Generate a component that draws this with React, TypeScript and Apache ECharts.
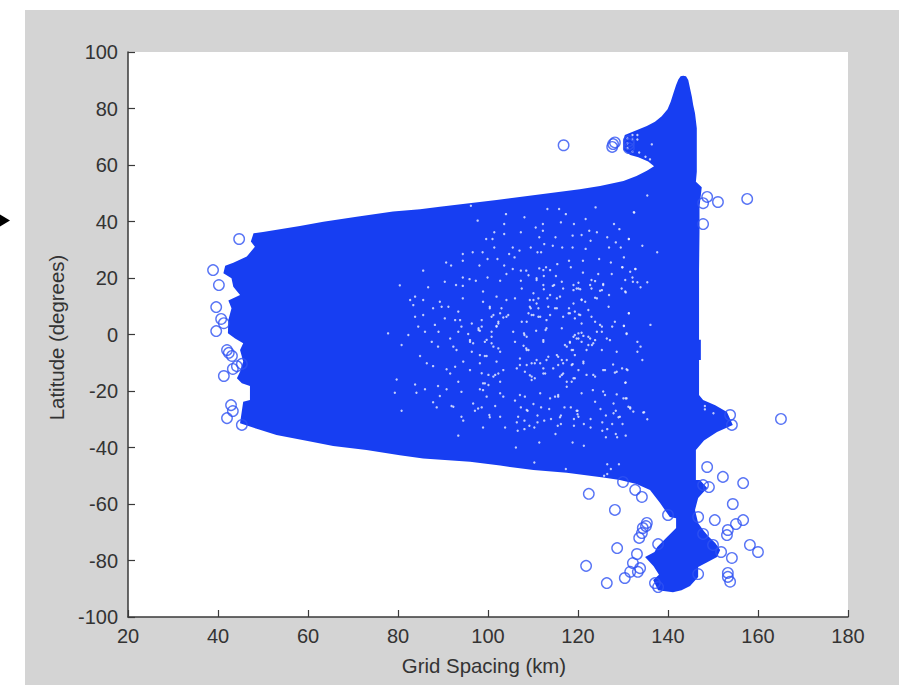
import React, { useEffect, useRef } from "react";
import * as echarts from "echarts";

const xTicksMin = 20;
const xTicksMax = 180;
const yTicksMin = -100;
const yTicksMax = 100;
const xName = "Grid Spacing (km)";
const yName = "Latitude (degrees)";

// Outer envelope of the solid point cloud, [grid spacing, latitude]
const envelope: number[][] = [
  [142.8,91.4],[143.4,91.6],[144,91.4],[144.5,90.1],[145.3,84.2],[145.6,81.2],[146,78.3],[146.4,73],[146.4,57.6],[146.2,54.1],[147.5,52.1],
  [147,45.2],[147,36.4],[146.9,22.8],[146.9,-1.9],[147.3,-1.9],[147.3,-9],[146.9,-9],[146.9,-21.4],[147.8,-23.2],
  [150.5,-25],[153.1,-27.4],[154.4,-32],[150.9,-34.5],[148,-37.5],[146.2,-40.9],
  [146.2,-51.5],[147.1,-51.5],[148.7,-54.3],[146.7,-57.9],[146,-62.1],[146.7,-66.7],[147.8,-69.2],[149,-71.5],[150.5,-73.8],[151.6,-76.3],
  [150.9,-78.8],[148.5,-80.8],[146.7,-82.3],[146.7,-85.8],[144.9,-89],[143,-90.5],[141.1,-91.2],[137.8,-90.5],[136.7,-86.9],[138,-85],[136.8,-82],
  [134.9,-78.8],[137,-77],[137.6,-75.2],[139.8,-71.7],[141.8,-68.5],[141.8,-65],[140.4,-64.6],[138.2,-59.6],[136,-55],
  [133,-52.9],[129.3,-51.5],[125.6,-50.6],[117.5,-48.9],[110.1,-48],[102.7,-46.4],[96,-45],[85.6,-43.9],[80.4,-42.7],[73,-40.9],[65.6,-39.5],[60.5,-37.9],[53,-35.6],[48.6,-33.4],
  [44.9,-31.4],[45.6,-23.8],[47.1,-23.2],[47.1,-18.2],[45.3,-17.3],[44.2,-15.5],[44.9,-13.2],[45.6,-9.6],[44.9,-5.5],[45.6,-3.1],[43.8,-1.4],
  [42.2,0.4],[42.3,5.1],[43,9.3],[42.3,12],[44.9,14],[43.4,16.9],[43,19.9],[41.2,21.7],[41.6,24.3],[43.4,25.4],[46.4,27.6],
  [48.2,31.1],[47.3,32.9],[47.9,35.8],[50,36.3],[58.2,38.4],[63.4,39.9],[70.8,41.7],[78.9,43.5],[84.9,44.3],[89.3,45.2],[101.9,47.6],
  [120.4,51.4],[124.9,52.6],[130.1,54.3],[133,56.1],[135.3,58],[136.9,59.6],[135.6,61.2],[133.4,62.7],[131.6,63.5],
  [130.1,65.3],[130.1,68.8],[130.4,70.6],[131.9,71.6],[133.4,72.6],[135.3,73.8],[137.1,75.3],[138.6,77.3],[139.9,79.7],[140.6,82.4],[141.2,85.4],[141.8,88.3],[142.3,90.3],
];

// Isolated open-circle points
const outliers: number[][] = [
  [44.7,33.8],[38.9,22.8],[40.2,17.5],[39.6,9.7],[40.7,5.5],[41.3,4],[39.6,1.2],[42,-5.5],[42.4,-6.5],[43.1,-7.6],
  [43.3,-12.2],[44.2,-11.2],[45.3,-10.4],[41.3,-14.7],[42.9,-25],[43.3,-27.1],[42,-29.6],[45.3,-32],
  [116.8,67],[127.8,67.4],[127.6,66.4],[128.2,68],[131.3,67.4],[131.3,68.5],[131.3,66],
  [151.1,46.9],[157.6,48],[148.7,48.7],[147.8,46.5],[147.8,39.1],
  [165.1,-29.9],[148.7,-46.9],[152.2,-50.4],[156.7,-52.6],[149.1,-54],[147.8,-53.3],[122.4,-56.4],[128.2,-62.1],
  [154.4,-60],[150.4,-65.7],[156.7,-65.7],[155.1,-67.1],[153.3,-69.2],[153.1,-71],[135.3,-66.7],[135.1,-67.8],
  [134.4,-68.5],[134.2,-70.3],[133.6,-72],[158.2,-74.5],[160,-77],[128.7,-75.6],[137.8,-74.2],[154.2,-79.1],
  [133.1,-77.7],[121.8,-81.9],[132.2,-80.9],[133.8,-82.7],[133.3,-84],[131.6,-84],[130.4,-86.2],[126.4,-88],
  [153.3,-84.4],[153.3,-85.8],[153.8,-87.5],[151.8,-77],[146.7,-84.8],[137.8,-89.4],[137.1,-88],[132.7,-55],
  [134.2,-57.5],[130,-52.2],[140,-63.9],[146.7,-64.6],[147.8,-70.6],[150,-74.5],[153.8,-28.5],[154.2,-32],
];

// Small gaps in the solid cloud
const gaps: number[][] = [
  [96.2,45.6],[113.2,44.4],[115.8,44.4],[123.9,45],[132.5,43.2],[104,42.6],[108.1,41.5],[117.3,42.6],[121.7,40.9],
  [97.7,40.3],[103.6,39.1],[112.2,39.1],[116.2,39.7],[119.1,39.1],[128,39.1],[110.6,37.9],[129.2,37.3],[101.4,36.2],
  [103.6,35.6],[107.3,36.2],[112.2,36.7],[122.5,36.7],[124.2,36.2],[120.8,35.2],[118.8,35],[99.6,33.8],[101,33.8],
  [111.4,34.4],[115,34.4],[126.5,34.4],[131.3,33.8],[112.5,32],[109.5,30.8],[105.5,30.8],[101.4,30.8],[122.8,33.2],
  [128.4,32.6],[114.4,31.4],[116.5,30.8],[118.8,30.8],[121.7,30.3],[126.9,30.8],[129.5,30.8],[94.4,28.5],[96.6,29.1],
  [98.8,29.1],[107,29.7],[111,29.1],[111.8,29.1],[105.9,27.3],[104.7,28.5],[99.9,26.7],[102.1,26.7],[121.1,26.1],
  [124.7,26.7],[127.3,25.5],[90.7,25.5],[91.8,24.4],[94.4,26.1],[98.1,24.4],[103.6,24.4],[115.4,24.9],[118,26.1],
  [118.4,23.8],[129.9,23.8],[132.7,23.2],[131.6,22.2],[85.6,22.6],[105.5,23.2],[107.3,22.6],[108.5,22.6],[111.4,23.4],
  [112.9,23.8],[113.8,22.8],[121.1,21.9],[124.5,21.4],[127.5,21.4],[94.4,20.2],[95.9,19.6],[97.3,19],[99.9,20.2],
  [102.7,19],[104.1,21.4],[107.3,19],[110.8,19.9],[112.4,20.7],[115.1,20.7],[116.4,18.7],[119,17.5],[120.1,18.3],
  [123,19.3],[123.8,18.9],[125.6,17.9],[130.5,19.3],[132.2,18.7],[90.4,18.7],[92.9,17.5],[86.7,16.7],[94.4,17.2],
  [98.9,15.2],[107.5,16.3],[110.1,14.6],[112.4,16],[114.4,17.2],[120.1,16.3],[122.7,17.5],[124.9,15.5],[129.7,16.3],
  [82.7,12.2],[83.8,13.4],[85.6,12.2],[89.3,11.6],[94.4,12.8],[98.9,11.6],[101.9,13.4],[104.1,12.2],[106,12.8],
  [109.3,12.2],[111.2,12.8],[113.2,12.8],[116,13.4],[119,11],[120.8,12.4],[123.8,13],[126.9,14],[130.5,15.2],
  [83.4,10.4],[87.8,9.3],[89.7,9.8],[91.2,9.8],[100.4,9.3],[103,9.3],[109.5,9.3],[114.9,9.3],[118,9.3],[122.3,8.7],
  [126.8,9.8],[83.8,6.3],[85.6,6.9],[93.4,8.1],[100.8,6.3],[104.1,6.3],[109.7,6.9],[118.2,7.5],[120.2,7.1],[123,6.3],
  [131.3,7.5],[90.4,5.7],[92.7,5.1],[93.8,5.1],[98.6,5.1],[102.3,4.5],[107.5,4.5],[111.2,6.3],[113,5.1],[119.3,5.7],
  [124.9,3.4],[128.2,4.5],[123.8,4.5],[84.5,2.8],[88.2,3.4],[94.1,2.8],[96.4,3.9],[97.9,1.6],[101.9,3],[105.6,1],
  [108.6,4.5],[110.7,1.3],[112.8,1.6],[116.4,2.2],[120.8,3.9],[127.6,2.8],[130.2,3],[82.3,-0.2],[86,1],[89,1],[93.4,1],
  [95.6,0.2],[100.8,1],[108.1,-0.2],[119.3,-0.2],[120.8,0.6],[124.2,1],[125.3,2.8],[130.8,0.2],[80.8,-3.7],[87.5,-2.6],
  [88.9,-4.3],[91.6,-1.4],[92.3,-4.3],[96,-2.6],[99.3,-2.6],[100.8,-0.8],[106,-2.6],[112.3,-2],[118.2,-2.9],[120.1,-1.4],
  [122.3,-0.8],[123.4,-3.1],[127.1,-2],[133.2,-2.6],[84.9,-7.6],[93,-5.5],[96.4,-6.1],[99.3,-7.6],[102.3,-4.9],[108.6,-5.5],
  [115.3,-7.3],[117.1,-3.7],[118.9,-5.5],[121.9,-5.5],[125.3,-5.5],[128.6,-6.1],[86.4,-10.2],[87.8,-11.2],[94.5,-9.6],
  [98.2,-10.2],[101.9,-9.6],[107.1,-8.5],[110.4,-10.2],[113,-9],[116.7,-10.2],[118.6,-10.8],[121.2,-9.6],[127.8,-10.6],
  [90.8,-12.3],[92.7,-11.4],[96,-12.6],[98.6,-13.7],[106.4,-12],[108.2,-13.2],[112.3,-12],[114.5,-12],[120.1,-12.6],
  [126,-12.6],[130.8,-12.3],[91.6,-13.8],[93.4,-16.7],[99.3,-17.3],[101.6,-14.3],[109.7,-14.9],[112.3,-13.8],[116.4,-14.3],
  [119,-15.5],[123.8,-14.9],[128.2,-13.5],[88.9,-18.2],[86,-19.4],[84.1,-20.6],[90.8,-19.4],[94.1,-20.3],[98.2,-19.4],
  [102.7,-16.7],[107.1,-21.4],[111.6,-20.8],[113.8,-22.6],[117.5,-18.5],[120.8,-20.8],[123.3,-19.7],[128.6,-21.2],[130.5,-17.1],
  [87.8,-24],[89.3,-21.8],[92.3,-25.6],[96.7,-24.4],[99.7,-22],[103.4,-22],[106,-23.4],[110.1,-24.6],[115.6,-22],[119.7,-27],
  [123.8,-23.8],[127.9,-24.4],[132.3,-27.3],[130.8,-22.6],[80.8,-27],[94.1,-29.1],[97.8,-26.2],[100.3,-28.5],[102.7,-29.1],
  [106.7,-29.1],[108.6,-26.7],[116,-29.3],[120.1,-29.1],[127.9,-27.9],[129.3,-29.1],
  [91.9,-25.3],[88.6,-25.8],[97.1,-27],[98.6,-25.8],[101.6,-25.3],[100.4,-29.3],[94.5,-30.5],[98.9,-32.9],[103.8,-32.9],
  [93.4,-35.8],[106.4,-31.1],[108.1,-30.5],[109.2,-32.3],[106.6,-34.1],[108.1,-33.5],[110.3,-32.9],[111,-31.1],[112.5,-30.5],
  [114,-29.9],[111,-28.7],[115.5,-32.3],[116.2,-31.7],[115,-35.2],[111.4,-38.2],[106.2,-40],[110.3,-45.3],[117.3,-47.6],
  [118.8,-38.2],[121.3,-39.4],[119.1,-32.3],[121.3,-31.7],[122.8,-32.9],[125.4,-34.1],[126.5,-33.5],[126.2,-36.4],[128.4,-35.2],
  [128.7,-36.4],[130.6,-35.8],[125.4,-31.1],[127.6,-31.7],[129.9,-31.7],[135.4,-30],[134.5,-27.6],[126.5,-45.9],[129.1,-45.9],
  [127.3,-47.6],[126.5,-49.4],[125.8,-50],[131.6,-25.8],[129,-29.3],[126.2,-28.7],[125,-26.4],[128.4,-27],[119.9,-27],
  [119.9,-28.2],[119.1,-29.9],[122.8,-29.9],[116.2,-28.7],[113.6,-26.4],[108.8,-27],[107.3,-25.8],[111.8,-25.8],[117,-25.8],[118.4,-25.8],
  [135.4,49.2],[132.4,43.3],[131.3,33.8],[134.3,31.4],[137.6,29.1],[130.2,27.3],[129.8,23.8],[132.8,23.2],[132.1,20.2],
  [133.2,18.5],[135.4,18.5],[133.9,16.7],[130.6,14.9],[131.3,7.5],[130.2,3.1],[136.1,3.4],[130.8,0.4],[133.9,-4.3],
  [133.2,-6.1],[134.3,-9],[129.8,-12],[131,-12.6],[130.6,-17],[130.6,-22.6],[134.7,-27.5],[148.2,-25.3],[148.2,-26.5],[150.1,-27.9],
  [80.4,17.4],[77.8,0.4],[79.7,-15.9],[83.8,-17.7],[79.3,-20.6],
  [132.1,70.6],[133.2,70.6],[132.1,69],[133.2,69],[131,69.4],[131,67.7],[131,65.9],[132.1,64.7],[133.6,64.4],[135,62.9],[136,62],[136.4,67.3],
  [118.2,-2.6],[119,-0.8],[120.1,0.4],[121.2,-0.5],[122.7,-1.4],[123.8,-2],[122.3,-3.7],[120.8,-2.6],[117.5,-4.3],[118.6,-5.5],
  [123.1,-3.7],[119.7,-1.4],[125.3,1],[126.4,-1.4],[115.6,-7.9],[116.4,-9],[115.6,-10.8],[117.5,-9],[118.8,-10.5],[121.2,-10.2],
  [119.3,-7.3],[113.4,-7.9],[111.6,-10.2],[110.8,-9],[109.7,-10.2],[108.6,-10.8],[107.1,-10.8],[109,-5.5],[108.5,-4.9],[107.9,-4],
  [112.3,-2.6],[113,2.2],[108,0.4],[108.6,-0.8],[119.7,16.3],[120.5,16],[124.2,12.8],[125.3,15.7],[125.6,17.5],[123,16.3],
  [120.8,12.2],[121.6,11.6],[119,15.7],[116.7,16.3],[114.7,17.5],[112.3,17.5],[110.8,19.3],[109,21],[112.3,22.8],
  [110.1,12.2],[110.8,11],[109.3,9.8],[111.2,9.3],[109,7.5],[110.1,6.9],[111.6,6.3],[113.4,9.8],[113.8,6.9],[115.3,9.3],
  [116.7,6.3],[117.9,7.5],[119.3,8.1],[120.5,6.9],[113.8,14],[115.3,12.8],[100.4,9.8],[101.2,6.9],[102.7,7.5],[103.4,6],
  [104.5,6.9],[101.9,2.8],[102.3,3.9],[97.9,2.2],[98.6,2.8],[98.2,1.3],[99.7,-1.9],[100.8,-3.1],[101.2,-4.3],[96,-2],
  [96.7,-3.1],[102.7,-6.1],[98.2,-7.3],[99.7,-7.6],[101.2,-14.9],[102.3,-13.8],[103.4,-12.6],[100.1,-14.3],[98.9,-17.3],
  [100.1,-17.9],[98.9,-19.7],[102.7,-20.8],[109.3,-14.4],[110.4,-15.5],[109.7,-16.1],[112.7,-13.8],[116,-14.9],[116.7,-13.8],
  [117.5,-16.7],[118.6,-16.7],[119.3,-15.5],[114.9,-22],[115.6,-21.4],[108.2,-22],[125.6,-12.6],[123.4,-14.3],[121.9,-14.3],
  [128.6,-13.2],[125.6,-20.2],[126,-21.4],[130.1,-22.6],[131.2,-25.6],[131.6,-26.2],
];

const BLUE = "#173EF2";
const INK = "#333333";
const FONT = "Liberation Sans";

export default function App() {
  const ref = useRef<HTMLDivElement>(null);
  useEffect(() => {
    const chart = echarts.init(ref.current!, null, { renderer: "svg" });
    const axisBase = {
      type: "value",
      nameLocation: "middle",
      axisLine: { show: true, onZero: false, lineStyle: { color: "#3a3a3a", width: 1.5 } },
      axisTick: { show: true, inside: true, length: 7, lineStyle: { color: "#3a3a3a", width: 1.2 } },
      splitLine: { show: false },
      interval: 20,
    };
    chart.setOption({
      animation: false,
      backgroundColor: "#ffffff",
      graphic: [
        { type: "rect", z: -10, silent: true, shape: { x: 25, y: 10, width: 874, height: 675 }, style: { fill: "#d4d4d4" } },
        { type: "polygon", z: 5, silent: true, shape: { points: [[0, 214.5], [10, 220.5], [0, 226.5]] }, style: { fill: "#000" } },
      ],
      grid: { left: 128, right: 51, top: 52, bottom: 68, show: true, backgroundColor: "#fff", borderWidth: 0 },
      xAxis: {
        ...axisBase, min: xTicksMin, max: xTicksMax, name: xName, nameGap: 39,
        nameTextStyle: { fontFamily: FONT, fontSize: 20.4, color: INK, padding: [0, 8, 0, 0] },
        axisLabel: { margin: 9, fontFamily: FONT, fontSize: 20, color: INK },
      },
      yAxis: {
        ...axisBase, min: yTicksMin, max: yTicksMax, name: yName, nameGap: 61,
        nameTextStyle: { fontFamily: FONT, fontSize: 20.4, color: INK, padding: [0, 6, 0, 0] },
        axisLabel: { margin: 10, fontFamily: FONT, fontSize: 20, color: INK },
      },
      series: [
        {
          type: "custom", coordinateSystem: "cartesian2d", clip: false, silent: true, z: 2,
          data: [[0, 0]],
          renderItem: (_p: any, api: any) => ({
            type: "polygon",
            shape: { points: envelope.map((d) => api.coord(d)) },
            style: { fill: BLUE },
          }),
        },
        {
          type: "scatter", data: gaps, symbol: "circle", symbolSize: 2.4, silent: true, z: 3,
          itemStyle: { color: "#eef1ff" },
        },
        {
          type: "scatter", data: outliers, symbol: "circle", symbolSize: 10.5, silent: true, z: 4,
          itemStyle: { color: "rgba(0,0,0,0)", borderColor: "#2F52F2", borderWidth: 1.4 },
        },
      ],
    });
    return () => chart.dispose();
  }, []);
  return <div ref={ref} style={{ position: "absolute", left: 0, top: 0, width: 899, height: 685 }} />;
}
